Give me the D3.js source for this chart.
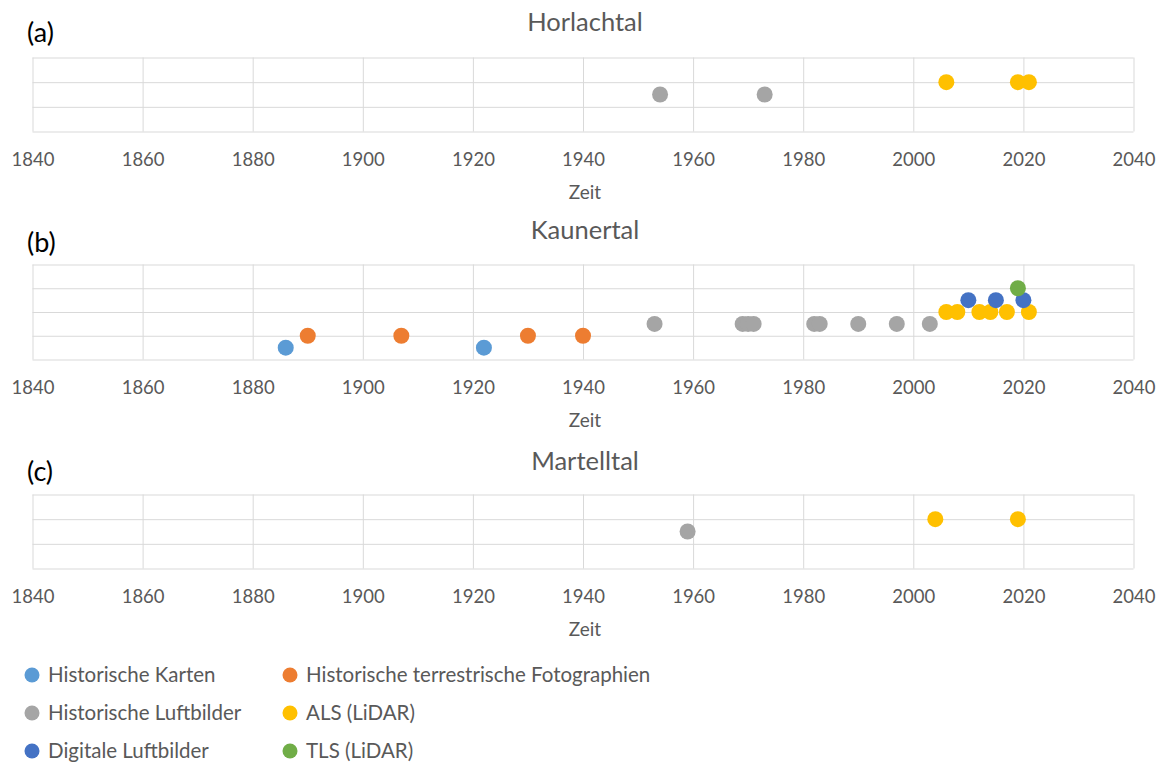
<!DOCTYPE html>
<html>
<head>
<meta charset="utf-8">
<script src="https://cdn.jsdelivr.net/npm/d3@7"></script>
<style>
  html, body { margin: 0; padding: 0; background: #fff; }
  svg { display: block; font-family: Lato, "Open Sans", sans-serif; }
</style>
</head>
<body>
<svg id="chart" width="1166" height="765"></svg>
<script>
// ---------- data ----------
const xTicks = [1840, 1860, 1880, 1900, 1920, 1940, 1960, 1980, 2000, 2020, 2040];
const seriesNames = ["Historische Karten", "Historische terrestrische Fotographien", "Historische Luftbilder", "ALS (LiDAR)", "Digitale Luftbilder", "TLS (LiDAR)"];
const seriesLevels = [0.5, 1, 1.5, 2, 2.5, 3];
const panelTitles = ["Horlachtal", "Kaunertal", "Martelltal"];
const panelLabels = ["(a)", "(b)", "(c)"];
const panelYMax = [3, 4, 3];
const axisTitle = "Zeit";

// years per series (order = seriesNames)
const horlachtalKarten = [];
const horlachtalFotos = [];
const horlachtalLuftbilder = [1954, 1973];
const horlachtalALS = [2006, 2019, 2021];
const horlachtalDigital = [];
const horlachtalTLS = [];

const kaunertalKarten = [1886, 1922];
const kaunertalFotos = [1890, 1907, 1930, 1940];
const kaunertalLuftbilder = [1953, 1969, 1970, 1971, 1982, 1983, 1990, 1997, 2003];
const kaunertalALS = [2006, 2008, 2012, 2014, 2017, 2021];
const kaunertalDigital = [2010, 2015, 2020];
const kaunertalTLS = [2019];

const martelltalKarten = [];
const martelltalFotos = [];
const martelltalLuftbilder = [1959];
const martelltalALS = [2004, 2019];
const martelltalDigital = [];
const martelltalTLS = [];

// ---------- styles / layout ----------
const colors = ["#5B9BD5", "#ED7D31", "#A5A5A5", "#FFC000", "#4472C4", "#70AD47"];
const panels = [
  [horlachtalKarten, horlachtalFotos, horlachtalLuftbilder, horlachtalALS, horlachtalDigital, horlachtalTLS],
  [kaunertalKarten, kaunertalFotos, kaunertalLuftbilder, kaunertalALS, kaunertalDigital, kaunertalTLS],
  [martelltalKarten, martelltalFotos, martelltalLuftbilder, martelltalALS, martelltalDigital, martelltalTLS]
];
const layout = [
  { top: 57.5, bottom: 131.5, titleY: 31, labelY: 42 },
  { top: 264.5, bottom: 359.5, titleY: 239, labelY: 252 },
  { top: 494.5, bottom: 568.5, titleY: 470, labelY: 481 }
];
const left = 32.5, right = 1133.5;
const textColor = "#595959";

const svg = d3.select("#chart");
const x = d3.scaleLinear().domain([xTicks[0], xTicks[xTicks.length - 1]]).range([left, right]);

panels.forEach((series, p) => {
  const L = layout[p];
  const y = d3.scaleLinear().domain([0, panelYMax[p]]).range([L.bottom, L.top]);
  const g = svg.append("g");

  // horizontal gridlines
  g.append("g")
    .attr("transform", `translate(${left},0)`)
    .call(d3.axisLeft(y).ticks(panelYMax[p]).tickSize(-(right - left)).tickFormat(""))
    .call(a => a.select(".domain").remove())
    .call(a => a.selectAll("line").attr("stroke", "#d9d9d9").attr("stroke-width", 1));

  // vertical gridlines
  g.append("g")
    .attr("transform", `translate(0,${L.top})`)
    .call(d3.axisBottom(x).tickValues(xTicks).tickSize(L.bottom - L.top).tickFormat(""))
    .call(a => a.select(".domain").remove())
    .call(a => a.selectAll("line").attr("stroke", "#d9d9d9").attr("stroke-width", 1));

  // tick labels
  g.append("g")
    .attr("transform", `translate(0,${L.bottom})`)
    .call(d3.axisBottom(x).tickValues(xTicks).tickSize(0).tickPadding(21).tickFormat(d3.format("d")))
    .call(a => a.select(".domain").remove())
    .call(a => a.selectAll("text")
      .attr("fill", textColor)
      .style("font-size", "18.5px")
      .style("font-family", "Lato, sans-serif"));

  // axis title
  g.append("text")
    .attr("x", (left + right) / 2 + 2)
    .attr("y", L.bottom + 67)
    .attr("text-anchor", "middle")
    .attr("fill", textColor)
    .style("font-size", "19px")
    .text(axisTitle);

  // panel title
  g.append("text")
    .attr("x", (left + right) / 2 + 2)
    .attr("y", L.titleY)
    .attr("text-anchor", "middle")
    .attr("fill", textColor)
    .style("font-size", "25.5px")
    .text(panelTitles[p]);

  // panel label
  g.append("text")
    .attr("x", 27)
    .attr("y", L.labelY)
    .attr("fill", "#000")
    .style("font-size", "27px")
    .text(panelLabels[p]);

  // points
  series.forEach((years, s) => {
    g.append("g").selectAll("circle")
      .data(years)
      .join("circle")
      .attr("cx", d => x(d))
      .attr("cy", y(seriesLevels[s]))
      .attr("r", 8)
      .attr("fill", colors[s]);
  });
});

// legend
const legendCols = [32, 290];
const legendRows = [675, 713, 751];
const legend = svg.append("g");
seriesNames.forEach((name, i) => {
  const cx = legendCols[i % 2], cy = legendRows[Math.floor(i / 2)];
  legend.append("circle").attr("cx", cx).attr("cy", cy).attr("r", 7.5).attr("fill", colors[i]);
  legend.append("text")
    .attr("x", cx + 16)
    .attr("y", cy)
    .attr("dy", "0.35em")
    .attr("fill", textColor)
    .style("font-size", "20.5px")
    .text(name);
});
</script>
</body>
</html>
